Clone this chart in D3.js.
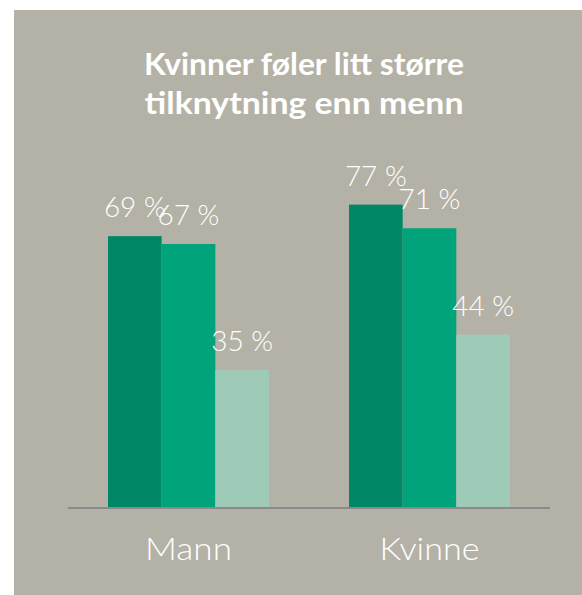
<!DOCTYPE html>
<html>
<head>
<meta charset="utf-8">
<title>Kvinner føler litt større tilknytning enn menn</title>
<script src="https://d3js.org/d3.v7.min.js"></script>
<style>
  body {margin: 0; background: #fff;}
  svg text {fill: #fff;}
</style>
</head>
<body>
<svg width="582" height="595"></svg>
<script>
  // data
  var groups = ["Mann", "Kvinne"];
  var series = ["s1", "s2", "s3"];
  var mannValues = [69, 67, 35];
  var kvinneValues = [77, 71, 44];
  var colors = ["#008765", "#01a37a", "#9fcab7"];
  var titleLines = ["Kvinner føler litt større", "tilknytning enn menn"];

  var rows = [];
  groups.forEach(function (g, gi) {
    var vals = gi === 0 ? mannValues : kvinneValues;
    series.forEach(function (s, si) {
      rows.push({group: g, key: s, value: vals[si]});
    });
  });

  var svg = d3.select("svg");

  // panel background
  svg.append("rect").attr("x", 14).attr("y", 10).attr("width", 568).attr("height", 585)
     .attr("fill", "#b4b2a6");

  // title
  svg.append("g").selectAll("text")
     .data(titleLines)
     .enter().append("text")
     .attr("x", 304)
     .attr("y", (d, i) => 75 + i * 39)
     .attr("text-anchor", "middle")
     .style("font-family", "'Lato', 'Open Sans', sans-serif")
     .style("font-weight", 700)
     .style("font-size", "30px")
     .attr("textLength", (d, i) => i === 0 ? 320 : 319)
     .attr("lengthAdjust", "spacingAndGlyphs")
     .text(d => d);

  var x0 = d3.scaleBand().domain(groups).range([68, 550]).paddingInner(0.332).paddingOuter(0.166);
  var x1 = d3.scaleBand().domain(series).range([0, x0.bandwidth()]);
  var y = d3.scaleLinear().domain([0, 100]).range([508, 114]);
  var color = d3.scaleOrdinal().domain(series).range(colors);

  var bars = svg.append("g");
  bars.selectAll("rect")
      .data(rows)
      .enter().append("rect")
      .attr("x", d => x0(d.group) + x1(d.key))
      .attr("y", d => y(d.value))
      .attr("width", x1.bandwidth())
      .attr("height", d => y(0) - y(d.value))
      .attr("fill", d => color(d.key));

  // value labels (they overlap a bit, as in the original)
  bars.selectAll("text")
      .data(rows)
      .enter().append("text")
      .attr("x", d => x0(d.group) + x1(d.key) + x1.bandwidth() / 2)
      .attr("y", d => y(d.value) - 19)
      .attr("text-anchor", "middle")
      .style("font-family", "'Lato', 'Open Sans', sans-serif")
      .style("font-weight", 300)
      .style("font-size", "28px")
      .text(d => d.value + " %");

  // baseline
  svg.append("line")
     .attr("x1", 68).attr("x2", 550)
     .attr("y1", y(0)).attr("y2", y(0))
     .attr("stroke", "#8a8a8a").attr("stroke-width", 2);

  // category labels
  var xAxis = d3.axisBottom(x0).tickSize(0).tickPadding(0);
  var ax = svg.append("g").attr("transform", "translate(0,560)").call(xAxis);
  ax.select(".domain").remove();
  ax.selectAll("text")
    .attr("y", 0).attr("dy", 0)
    .style("font-family", "'Lato', 'Open Sans', sans-serif")
    .style("font-weight", 300)
    .style("font-size", "32px")
    .attr("textLength", d => d === "Mann" ? 87 : 100)
    .attr("lengthAdjust", "spacingAndGlyphs")
    .attr("fill", "#fff");
</script>
</body>
</html>
